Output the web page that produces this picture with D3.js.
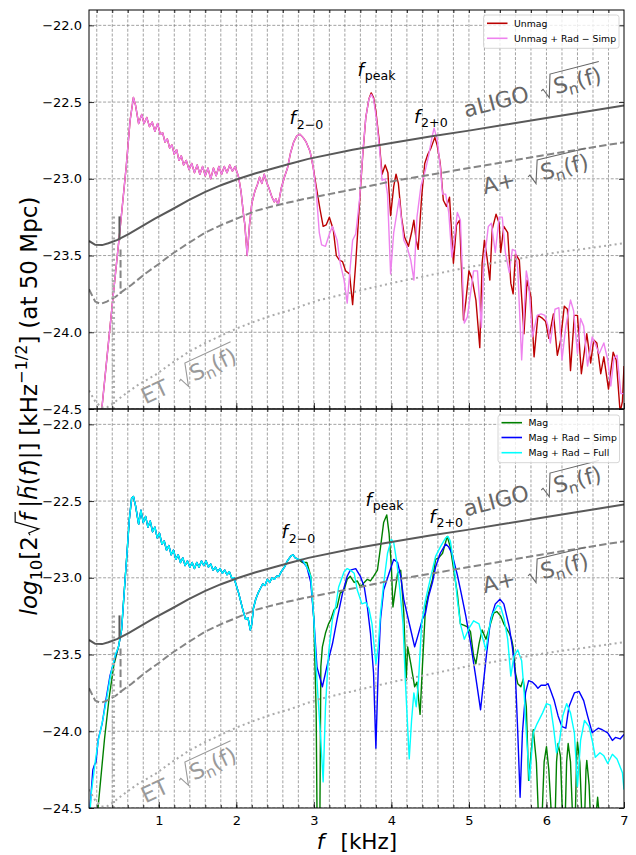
<!DOCTYPE html>
<html>
<head>
<meta charset="utf-8">
<script src="https://cdn.jsdelivr.net/npm/d3@7"></script>
<style>
  body { margin: 0; background: #fff; }
  svg text { font-family: "DejaVu Sans", sans-serif; }
</style>
</head>
<body>
<div id="chart"></div>
<script>
/**
 * CONSTANTS AND GLOBALS
 * */
const width = 636, height = 855;
const plotLeft = 89, plotRight = 624, panelHeight = 399;
const panelTops = [10, 409];

const xDomain = [0.1, 7];
const yDomain = [-24.5, -21.9];
const xTicks = [1, 2, 3, 4, 5, 6, 7];
const xMinorTicks = d3.range(1, 35).map(i => +(i * 0.2).toFixed(1));
const yTicks = [-22.0, -22.5, -23.0, -23.5, -24.0, -24.5];

/**
 * DATA  [f (kHz), log10 amplitude]
 * */
// detector noise curves
const aligo = [[0.1,-23.405],[0.18,-23.43],[0.27,-23.432],[0.35,-23.42],[0.46,-23.40],[0.61,-23.36],[0.78,-23.31],[0.95,-23.26],[1.17,-23.20],[1.38,-23.14],[1.6,-23.085],[1.81,-23.04],[2.03,-23.0],[2.24,-22.965],[2.46,-22.935],[2.67,-22.905],[2.93,-22.87],[3.5,-22.81],[4.0,-22.767],[4.5,-22.725],[5.0,-22.686],[5.5,-22.645],[6.0,-22.604],[6.5,-22.563],[7.0,-22.523]];
const aplus = [[0.1,-23.72],[0.18,-23.80],[0.25,-23.815],[0.33,-23.80],[0.44,-23.77],[0.5,-23.745],[0.65,-23.69],[0.82,-23.62],[1.0,-23.555],[1.17,-23.49],[1.38,-23.42],[1.6,-23.35],[1.81,-23.30],[2.03,-23.255],[2.24,-23.21],[2.46,-23.18],[2.67,-23.155],[2.89,-23.13],[3.5,-23.07],[4.0,-23.017],[5.0,-22.93],[6.0,-22.843],[7.0,-22.762]];
const et = [[0.1,-24.38],[0.18,-24.45],[0.26,-24.49],[0.33,-24.49],[0.42,-24.46],[0.52,-24.42],[0.74,-24.34],[0.95,-24.28],[1.17,-24.20],[1.38,-24.13],[1.6,-24.07],[1.81,-24.02],[2.03,-23.97],[2.24,-23.93],[2.46,-23.89],[2.67,-23.86],[2.89,-23.82],[3.07,-23.79],[4.0,-23.68],[5.0,-23.575],[6.0,-23.49],[7.0,-23.42]];
const aligoStub = [[0.493,-23.245],[0.493,-23.40]];
const aplusStub = [[0.507,-23.46],[0.507,-23.75]];
const etStub = [[0.415,-23.245],[0.415,-24.5]];

// top panel: unmagnetised (both runs agree below ~3 kHz)
const unmagLow = [[0.15,-25.0],[0.265,-24.5],[0.40,-23.82],[0.50,-23.33],[0.58,-22.92],[0.63,-22.62],[0.673,-22.47],[0.70,-22.52],[0.74,-22.64],[0.78,-22.58],[0.81,-22.64],[0.845,-22.60],[0.88,-22.66],[0.915,-22.63],[0.95,-22.69],[0.985,-22.64],[1.02,-22.71],[1.05,-22.70],[1.08,-22.76],[1.11,-22.74],[1.14,-22.80],[1.17,-22.78],[1.20,-22.84],[1.23,-22.81],[1.26,-22.88],[1.29,-22.85],[1.32,-22.91],[1.355,-22.88],[1.39,-22.94],[1.425,-22.90],[1.46,-22.96],[1.495,-22.91],[1.53,-22.97],[1.565,-22.92],[1.60,-22.98],[1.635,-22.93],[1.67,-23.00],[1.705,-22.93],[1.74,-22.98],[1.775,-22.92],[1.81,-22.97],[1.845,-22.92],[1.88,-22.96],[1.915,-22.91],[1.95,-22.95],[1.985,-22.92],[2.03,-22.99],[2.06,-23.08],[2.09,-23.22],[2.11,-23.30],[2.14,-23.50],[2.17,-23.30],[2.20,-23.16],[2.24,-23.08],[2.27,-23.04],[2.30,-22.99],[2.33,-23.03],[2.36,-22.97],[2.39,-23.02],[2.42,-23.06],[2.46,-23.12],[2.49,-23.15],[2.51,-23.13],[2.54,-23.17],[2.58,-23.06],[2.62,-22.99],[2.66,-22.93],[2.70,-22.83],[2.74,-22.76],[2.78,-22.72],[2.82,-22.71],[2.86,-22.73],[2.90,-22.76],[2.95,-22.82],[2.99,-22.92]];
const unmagHigh = [[3.03,-23.05],[3.08,-23.20],[3.12,-23.31],[3.16,-23.30],[3.20,-23.25],[3.25,-23.33],[3.29,-23.50],[3.33,-23.53],[3.37,-23.54],[3.41,-23.60],[3.46,-23.62],[3.50,-23.82],[3.54,-23.55],[3.59,-23.15],[3.63,-22.85],[3.67,-22.60],[3.71,-22.48],[3.74,-22.44],[3.77,-22.47],[3.80,-22.56],[3.84,-22.74],[3.88,-22.97],[3.92,-22.91],[3.955,-22.96],[3.99,-23.24],[4.03,-23.05],[4.06,-22.97],[4.09,-23.03],[4.13,-23.25],[4.17,-23.38],[4.22,-23.44],[4.26,-23.35],[4.29,-23.27],[4.32,-23.40],[4.345,-23.46],[4.39,-23.12],[4.43,-22.90],[4.47,-22.84],[4.51,-22.80],[4.56,-22.73],[4.59,-22.78],[4.63,-22.90],[4.67,-23.14],[4.71,-23.18],[4.75,-23.12],[4.80,-23.55],[4.84,-23.30],[4.88,-23.27],[4.93,-23.92],[4.96,-23.80],[5.0,-23.60],[5.04,-23.65],[5.09,-23.79],[5.14,-24.10],[5.17,-23.55],[5.20,-23.40],[5.23,-23.50],[5.27,-23.66],[5.30,-23.33],[5.35,-23.23],[5.39,-23.29],[5.41,-23.48],[5.45,-23.31],[5.50,-23.35],[5.54,-23.68],[5.57,-23.75],[5.60,-23.49],[5.65,-23.53],[5.71,-24.01],[5.75,-23.66],[5.80,-23.77],[5.84,-24.16],[5.89,-23.89],[5.95,-23.91],[5.99,-23.93],[6.03,-24.04],[6.09,-23.88],[6.14,-24.15],[6.18,-24.06],[6.23,-23.83],[6.27,-23.85],[6.31,-24.25],[6.36,-23.89],[6.40,-23.89],[6.45,-24.27],[6.52,-24.01],[6.57,-24.20],[6.61,-24.05],[6.65,-24.07],[6.70,-24.27],[6.74,-24.16],[6.80,-24.37],[6.86,-24.13],[6.90,-24.18],[6.95,-24.52],[6.98,-24.45],[7.0,-24.22]];
const unmagRadHigh = [[3.03,-23.08],[3.07,-23.35],[3.10,-23.43],[3.15,-23.44],[3.20,-23.36],[3.24,-23.31],[3.30,-23.40],[3.34,-23.55],[3.39,-23.66],[3.43,-23.81],[3.47,-23.57],[3.50,-23.40],[3.54,-23.36],[3.59,-23.13],[3.63,-22.84],[3.67,-22.60],[3.71,-22.48],[3.74,-22.45],[3.77,-22.48],[3.81,-22.62],[3.85,-22.82],[3.88,-23.01],[3.92,-23.00],[3.95,-23.10],[3.99,-23.62],[4.03,-23.35],[4.10,-23.13],[4.16,-23.40],[4.20,-23.44],[4.25,-23.53],[4.29,-23.66],[4.33,-23.25],[4.38,-23.05],[4.44,-22.94],[4.48,-22.85],[4.52,-22.74],[4.55,-22.67],[4.59,-22.74],[4.63,-22.92],[4.66,-23.10],[4.70,-23.10],[4.74,-23.22],[4.78,-23.51],[4.81,-23.40],[4.85,-23.22],[4.89,-23.27],[4.94,-23.94],[4.98,-23.90],[5.06,-23.60],[5.11,-23.60],[5.16,-23.97],[5.19,-23.57],[5.25,-23.31],[5.29,-23.29],[5.34,-23.48],[5.39,-23.25],[5.43,-23.25],[5.47,-23.48],[5.52,-23.61],[5.56,-23.46],[5.60,-23.47],[5.63,-23.59],[5.68,-24.18],[5.74,-23.60],[5.77,-23.68],[5.82,-24.03],[5.88,-23.89],[5.93,-23.88],[5.98,-23.89],[6.02,-23.96],[6.05,-24.07],[6.11,-23.85],[6.16,-23.84],[6.20,-24.18],[6.25,-23.96],[6.31,-23.79],[6.35,-23.86],[6.40,-24.14],[6.44,-23.91],[6.48,-23.96],[6.53,-24.22],[6.59,-24.03],[6.64,-24.09],[6.68,-24.14],[6.74,-24.07],[6.79,-24.18],[6.83,-24.35],[6.87,-24.17],[6.91,-24.15],[6.96,-24.40],[7.0,-24.40]];

// bottom panel: magnetised
const magStart = [[0.20,-24.62],[0.22,-24.48],[0.30,-24.05],[0.36,-23.78],[0.42,-23.57],[0.46,-23.49]];
const magSimpStart = [[0.10,-24.6],[0.12,-24.45],[0.15,-24.25],[0.17,-24.22],[0.19,-24.2],[0.22,-24.05],[0.27,-23.95],[0.31,-23.82],[0.37,-23.64],[0.44,-23.51]];
const magFullStart = [[0.10,-24.62],[0.13,-24.40],[0.18,-24.20],[0.22,-24.06],[0.28,-23.92],[0.33,-23.78],[0.38,-23.63],[0.44,-23.50]];
const magLow = [[0.48,-23.45],[0.52,-23.34],[0.56,-23.05],[0.59,-22.84],[0.62,-22.62],[0.65,-22.48],[0.673,-22.47],[0.70,-22.53],[0.74,-22.65],[0.77,-22.56],[0.80,-22.64],[0.83,-22.60],[0.86,-22.67],[0.89,-22.63],[0.92,-22.70],[0.95,-22.67],[0.98,-22.74],[1.01,-22.71],[1.04,-22.78],[1.07,-22.76],[1.10,-22.82],[1.13,-22.79],[1.16,-22.85],[1.19,-22.82],[1.22,-22.88],[1.25,-22.85],[1.28,-22.90],[1.31,-22.87],[1.34,-22.92],[1.37,-22.89],[1.40,-22.93],[1.43,-22.90],[1.46,-22.94],[1.49,-22.90],[1.52,-22.93],[1.55,-22.89],[1.58,-22.92],[1.61,-22.89],[1.64,-22.93],[1.67,-22.91],[1.70,-22.95],[1.73,-22.93],[1.76,-22.96],[1.79,-22.94],[1.82,-22.97],[1.85,-22.95],[1.88,-22.98],[1.91,-22.96],[1.94,-23.00],[1.97,-23.00],[2.00,-23.05],[2.03,-23.10],[2.06,-23.16],[2.09,-23.22],[2.12,-23.27],[2.15,-23.26],[2.18,-23.34],[2.20,-23.30],[2.22,-23.20],[2.25,-23.14],[2.28,-23.10],[2.31,-23.07],[2.34,-23.04],[2.37,-23.05],[2.40,-23.01],[2.43,-23.03],[2.46,-23.00],[2.49,-23.01],[2.52,-22.99],[2.55,-22.99],[2.58,-22.96],[2.62,-22.93],[2.66,-22.89],[2.70,-22.86],[2.73,-22.85],[2.76,-22.87],[2.80,-22.88]];
const magHigh = [[2.85,-22.90],[2.91,-22.90],[2.96,-22.99],[3.00,-23.27],[3.03,-23.88],[3.045,-24.8],[3.075,-24.8],[3.09,-23.58],[3.11,-23.45],[3.15,-23.36],[3.19,-23.30],[3.22,-23.27],[3.26,-23.21],[3.30,-23.19],[3.34,-23.10],[3.39,-23.08],[3.43,-23.01],[3.47,-22.99],[3.52,-23.03],[3.56,-23.02],[3.60,-23.06],[3.65,-23.03],[3.69,-23.01],[3.73,-23.02],[3.77,-22.99],[3.82,-22.95],[3.86,-22.80],[3.90,-22.64],[3.94,-22.59],[3.97,-22.71],[4.00,-22.93],[4.02,-23.19],[4.05,-23.08],[4.08,-22.97],[4.12,-22.95],[4.16,-23.23],[4.19,-23.67],[4.21,-23.45],[4.25,-23.56],[4.30,-23.71],[4.33,-23.68],[4.37,-23.89],[4.40,-23.58],[4.44,-23.19],[4.48,-23.10],[4.53,-23.01],[4.57,-22.88],[4.61,-22.87],[4.66,-22.84],[4.72,-22.73],[4.76,-22.80],[4.81,-22.97],[4.85,-23.10],[4.89,-23.30],[4.94,-23.31],[4.98,-23.32],[5.02,-23.35],[5.06,-23.51],[5.09,-23.56],[5.13,-23.43],[5.17,-23.34],[5.22,-23.40],[5.26,-23.33],[5.32,-23.23],[5.36,-23.22],[5.41,-23.25],[5.45,-23.30],[5.52,-23.36],[5.55,-23.40],[5.57,-23.45],[5.60,-23.62],[5.63,-23.69],[5.67,-23.71],[5.70,-23.66],[5.74,-23.84],[5.77,-24.32],[5.80,-24.15],[5.83,-23.99],[5.87,-24.20],[5.90,-24.6],[5.94,-24.6],[5.97,-24.20],[6.00,-24.10],[6.03,-24.25],[6.07,-24.6],[6.11,-24.6],[6.13,-24.20],[6.15,-24.08],[6.18,-24.16],[6.21,-24.6],[6.24,-24.6],[6.26,-24.20],[6.28,-24.08],[6.31,-24.20],[6.34,-24.6],[6.37,-24.6],[6.39,-24.15],[6.40,-24.07],[6.43,-24.20],[6.46,-24.6],[6.49,-24.6],[6.51,-24.25],[6.52,-24.19],[6.55,-24.35],[6.57,-24.6],[6.63,-24.6],[6.66,-24.43],[6.69,-24.6],[7.0,-24.6]];
const magSimpHigh = [[2.85,-22.89],[2.91,-22.93],[2.96,-23.03],[3.00,-23.27],[3.04,-23.58],[3.11,-23.71],[3.15,-23.62],[3.19,-23.53],[3.24,-23.43],[3.30,-23.27],[3.37,-23.10],[3.43,-22.99],[3.47,-22.95],[3.54,-22.94],[3.60,-22.99],[3.65,-23.06],[3.69,-23.19],[3.73,-23.36],[3.77,-23.62],[3.80,-24.11],[3.83,-23.60],[3.86,-23.27],[3.90,-23.08],[3.97,-22.97],[4.03,-22.88],[4.08,-22.90],[4.12,-22.99],[4.16,-23.14],[4.20,-23.23],[4.25,-23.34],[4.30,-23.45],[4.34,-23.38],[4.40,-23.27],[4.44,-23.23],[4.48,-23.12],[4.53,-23.03],[4.57,-22.93],[4.63,-22.84],[4.70,-22.78],[4.74,-22.80],[4.78,-22.84],[4.85,-22.98],[4.90,-23.10],[4.96,-23.25],[5.02,-23.42],[5.08,-23.62],[5.15,-23.86],[5.22,-23.53],[5.28,-23.27],[5.34,-23.17],[5.40,-23.14],[5.45,-23.17],[5.52,-23.32],[5.56,-23.45],[5.60,-23.64],[5.63,-24.01],[5.66,-24.43],[5.69,-24.01],[5.73,-23.75],[5.77,-23.67],[5.82,-23.68],[5.86,-23.70],[5.89,-23.72],[5.93,-23.70],[5.99,-23.70],[6.02,-23.69],[6.05,-23.73],[6.10,-23.80],[6.15,-23.90],[6.20,-23.97],[6.25,-23.98],[6.29,-23.84],[6.36,-23.75],[6.42,-23.74],[6.48,-23.80],[6.53,-23.90],[6.59,-24.01],[6.64,-23.99],[6.67,-23.98],[6.72,-23.99],[6.79,-24.01],[6.85,-24.06],[6.89,-24.04],[6.95,-24.05],[7.0,-24.02]];
const magFullHigh = [[2.85,-22.88],[2.91,-22.93],[2.96,-22.99],[3.00,-23.27],[3.04,-23.67],[3.09,-24.06],[3.12,-24.33],[3.15,-23.84],[3.19,-23.49],[3.24,-23.27],[3.28,-23.19],[3.32,-23.06],[3.39,-22.96],[3.43,-22.94],[3.47,-22.95],[3.52,-22.97],[3.56,-23.08],[3.62,-23.17],[3.67,-23.16],[3.71,-23.20],[3.75,-23.30],[3.80,-23.56],[3.83,-23.45],[3.86,-23.23],[3.90,-23.04],[3.95,-22.84],[4.00,-22.75],[4.03,-22.77],[4.07,-22.90],[4.11,-23.08],[4.15,-23.30],[4.18,-23.67],[4.23,-24.18],[4.26,-23.93],[4.29,-23.75],[4.32,-23.84],[4.35,-23.67],[4.39,-23.30],[4.43,-23.17],[4.46,-23.10],[4.51,-22.99],[4.57,-22.86],[4.63,-22.80],[4.70,-22.74],[4.73,-22.73],[4.76,-22.76],[4.81,-22.93],[4.85,-23.14],[4.89,-23.30],[4.94,-23.40],[5.00,-23.33],[5.06,-23.28],[5.13,-23.30],[5.17,-23.38],[5.22,-23.47],[5.26,-23.33],[5.30,-23.24],[5.37,-23.18],[5.41,-23.19],[5.45,-23.26],[5.50,-23.40],[5.54,-23.64],[5.58,-23.51],[5.63,-23.47],[5.68,-23.54],[5.71,-23.73],[5.74,-24.01],[5.78,-24.32],[5.83,-24.01],[5.88,-23.95],[5.95,-23.88],[6.00,-23.82],[6.05,-23.83],[6.09,-23.97],[6.13,-24.14],[6.17,-24.06],[6.21,-23.90],[6.26,-23.82],[6.31,-23.88],[6.36,-24.01],[6.40,-24.36],[6.44,-24.06],[6.49,-23.93],[6.55,-23.97],[6.59,-24.06],[6.63,-24.17],[6.69,-24.14],[6.74,-24.16],[6.79,-24.21],[6.85,-24.15],[6.91,-24.18],[6.98,-24.27],[7.0,-24.38]];

const topLabels = ["Unmag", "Unmag + Rad \u2212 Simp"];
const bottomLabels = ["Mag", "Mag + Rad \u2212 Simp", "Mag + Rad \u2212 Full"];

/**
 * PANEL SETUP (built from the arrays above)
 * */
const panels = [
  {
    top: panelTops[0],
    series: [
      { name: topLabels[0], color: "#bb0000", data: unmagLow.concat(unmagHigh) },
      { name: topLabels[1], color: "violet", data: unmagLow.concat(unmagRadHigh) },
    ],
    legend: { x: 483.5, y: 15, w: 135.5, rowY: [8.3, 23.3] },
    peaks: [[2.686, -22.643, "2\u22120"], [3.564, -22.33, "peak"], [4.29, -22.634, "2+0"]],
  },
  {
    top: panelTops[1],
    series: [
      { name: bottomLabels[0], color: "green", data: magStart.concat(magLow, magHigh) },
      { name: bottomLabels[1], color: "blue", data: magSimpStart.concat(magLow, magSimpHigh) },
      { name: bottomLabels[2], color: "cyan", data: magFullStart.concat(magLow, magFullHigh) },
    ],
    legend: { x: 498, y: 415, w: 121.5, rowY: [7.7, 22.5, 37.7] },
    peaks: [[2.583, -22.743, "2\u22120"], [3.667, -22.532, "peak"], [4.489, -22.641, "2+0"]],
  },
];

const noise = [
  { data: aligo, stub: aligoStub, color: "#595959", dash: null, label: "aLIGO", at: [4.96, -22.60], angle: -14.5, textColor: "#666" },
  { data: aplus, stub: aplusStub, color: "#858585", dash: "7.4,3.2", label: "A+", at: [5.20, -23.10], angle: -13.5, textColor: "#6a6a6a" },
  { data: et, stub: etStub, color: "#ababab", dash: "2,3.3", label: "ET", at: [0.83, -24.47], angle: -25, textColor: "#9a9a9a" },
];

let svg;

init();

// lays out a row of text pieces (mathtext-like); returns total width
function mathText(g, parts, fs, fill) {
  let x = 0;
  const boxes = [], rads = [];
  parts.forEach(p => {
    if (p.gap) { x += p.gap * fs; return; }
    if (p.rad) { rads.push({ x0: x, from: boxes.length, n: p.rad }); x += 0.64 * fs; return; }
    const t = g.append("text")
      .attr("x", x)
      .attr("y", (p.dy || 0) * fs)
      .attr("font-size", fs * (p.s || 1))
      .attr("font-style", p.it ? "italic" : null)
      .attr("fill", fill)
      .text(p.t);
    const w = t.node().getComputedTextLength();
    if (p.acc) {
      g.append("text")
        .attr("x", x + w / 2 + 0.08 * fs)
        .attr("y", -0.62 * fs)
        .attr("font-size", fs * 0.7)
        .attr("text-anchor", "middle")
        .attr("fill", fill)
        .text(p.acc);
    }
    boxes.push({ x0: x, x1: x + w });
    x += w;
  });
  rads.forEach(r => {
    const end = boxes[r.from + r.n - 1].x1 + 0.06 * fs;
    const top = -0.95 * fs, x0 = r.x0 + 0.04 * fs;
    g.append("path")
      .attr("d", `M${x0},${-0.3 * fs}L${x0 + 0.1 * fs},${-0.36 * fs}L${x0 + 0.28 * fs},${0.08 * fs}L${x0 + 0.58 * fs},${top}L${end},${top}`)
      .attr("fill", "none")
      .attr("stroke", fill)
      .attr("stroke-width", Math.max(0.9, 0.05 * fs));
  });
  return x;
}

/**
 * INITIALIZING FUNCTION
 * */
function init() {
  svg = d3.select("#chart")
    .append("svg")
    .attr("width", width)
    .attr("height", height);

  const x = d3.scaleLinear().domain(xDomain).range([plotLeft, plotRight]);

  panels.forEach((panel, pi) => {
    const y = d3.scaleLinear().domain(yDomain).range([panel.top + panelHeight, panel.top]);
    const line = d3.line().x(d => x(d[0])).y(d => y(d[1]));

    svg.append("clipPath")
      .attr("id", "clip" + pi)
      .append("rect")
      .attr("x", plotLeft).attr("y", panel.top)
      .attr("width", plotRight - plotLeft).attr("height", panelHeight);

    const g = svg.append("g").attr("clip-path", `url(#clip${pi})`);

    // grid
    g.selectAll(".vgrid")
      .data(xMinorTicks)
      .join("line")
      .attr("x1", d => x(d)).attr("x2", d => x(d))
      .attr("y1", panel.top).attr("y2", panel.top + panelHeight)
      .attr("stroke", "#7a7a7a").attr("stroke-width", 0.7)
      .attr("stroke-dasharray", "3,1.7");
    g.selectAll(".hgrid")
      .data(yTicks)
      .join("line")
      .attr("x1", plotLeft).attr("x2", plotRight)
      .attr("y1", d => y(d)).attr("y2", d => y(d))
      .attr("stroke", "#7a7a7a").attr("stroke-width", 0.7)
      .attr("stroke-dasharray", "3,1.7");

    // signals
    g.selectAll(".signal")
      .data(panel.series)
      .join("path")
      .attr("d", d => line(d.data))
      .attr("fill", "none")
      .attr("stroke", d => d.color)
      .attr("stroke-width", 1.4)
      .attr("stroke-linejoin", "round");

    // noise curves
    noise.forEach(n => {
      [n.data, n.stub].forEach(arr => {
        g.append("path")
          .attr("d", line(arr))
          .attr("fill", "none")
          .attr("stroke", n.color)
          .attr("stroke-width", arr === n.stub && n.label === "ET" ? 3.2 : 2)
          .attr("stroke-dasharray", n.dash);
      });
      const lg = svg.append("g")
        .attr("transform", `translate(${x(n.at[0])},${y(n.at[1])}) rotate(${n.angle})`);
      mathText(lg, [
        { t: n.label }, { gap: 0.55 }, { rad: 3 },
        { t: "S" }, { t: "n", s: 0.7, dy: 0.2 }, { t: "(f)" },
      ], 22, n.textColor);
    });

    // peak labels
    panel.peaks.forEach(p => {
      const lg = svg.append("g").attr("transform", `translate(${x(p[0])},${y(p[1])})`);
      mathText(lg, [{ t: "f", it: true }, { gap: 0.05 }, { t: p[2], s: 0.7, dy: 0.25 }], 18, "#000");
    });

    // frame + ticks (inward)
    const ax = svg.append("g");
    ax.append("g").attr("transform", `translate(${plotLeft},0)`)
      .call(d3.axisLeft(y).tickValues(yTicks).tickSize(-5).tickPadding(7)
        .tickFormat(d => d3.format(".1f")(d).replace("-", "\u2212")));
    ax.append("g").attr("transform", `translate(${plotRight},0)`)
      .call(d3.axisRight(y).tickValues(yTicks).tickSize(-5).tickFormat(""));
    ax.append("g").attr("transform", `translate(0,${panel.top + panelHeight})`)
      .call(d3.axisBottom(x).tickValues(xMinorTicks).tickSize(-3).tickFormat(""));
    ax.append("g").attr("transform", `translate(0,${panel.top + panelHeight})`)
      .call(d3.axisBottom(x).tickValues(xTicks).tickSize(-6).tickPadding(8)
        .tickFormat(pi === 1 ? d3.format("d") : ""));
    ax.append("g").attr("transform", `translate(0,${panel.top})`)
      .call(d3.axisTop(x).tickValues(xMinorTicks).tickSize(-3).tickFormat(""));
    ax.selectAll(".domain").remove();
    ax.selectAll(".tick line").attr("stroke", "#000").attr("stroke-width", 0.8);
    ax.selectAll(".tick text").attr("font-size", 13).attr("fill", "#000")
      .attr("font-family", "DejaVu Sans");
    ax.append("rect")
      .attr("x", plotLeft).attr("y", panel.top)
      .attr("width", plotRight - plotLeft).attr("height", panelHeight)
      .attr("fill", "none").attr("stroke", "#000").attr("stroke-width", 1);

    // legend
    const L = panel.legend;
    const leg = svg.append("g").attr("transform", `translate(${L.x},${L.y})`);
    leg.append("rect")
      .attr("width", L.w).attr("height", L.rowY[L.rowY.length - 1] + 10)
      .attr("rx", 2.5)
      .attr("fill", "#fff").attr("fill-opacity", 0.8)
      .attr("stroke", "#cccccc").attr("stroke-width", 0.8);
    const rows = leg.selectAll(".row")
      .data(panel.series)
      .join("g")
      .attr("transform", (d, i) => `translate(0,${L.rowY[i]})`);
    rows.append("line")
      .attr("x1", 3.5).attr("x2", 24)
      .attr("stroke", d => d.color).attr("stroke-width", 1.6);
    rows.append("text")
      .attr("x", 30.5).attr("dy", "0.35em")
      .attr("font-size", 9.3)
      .text(d => d.name);
  });

  // axis titles
  const yl = svg.append("g");
  const yw = mathText(yl, [
    { t: "log", it: true }, { t: "10", s: 0.7, dy: 0.2 }, { t: "[2" }, { rad: 1 }, { t: "f", it: true },
    { gap: 0.25 }, { t: "|" }, { t: "h", it: true, acc: "~" }, { t: "(" }, { t: "f", it: true }, { t: ")|]" },
    { gap: 0.3 }, { t: "[kHz" }, { t: "\u22121/2", s: 0.7, dy: -0.42 }, { t: "]" },
    { gap: 0.3 }, { t: "(at 50 Mpc)" },
  ], 23, "#000");
  yl.attr("transform", `translate(37,${406 + yw / 2}) rotate(-90)`);

  const xl = svg.append("g");
  const xw = mathText(xl, [{ t: "f", it: true }, { gap: 0.75 }, { t: "[kHz]" }], 21.5, "#000");
  xl.attr("transform", `translate(${357 - xw / 2},849)`);
}
</script>
</body>
</html>
